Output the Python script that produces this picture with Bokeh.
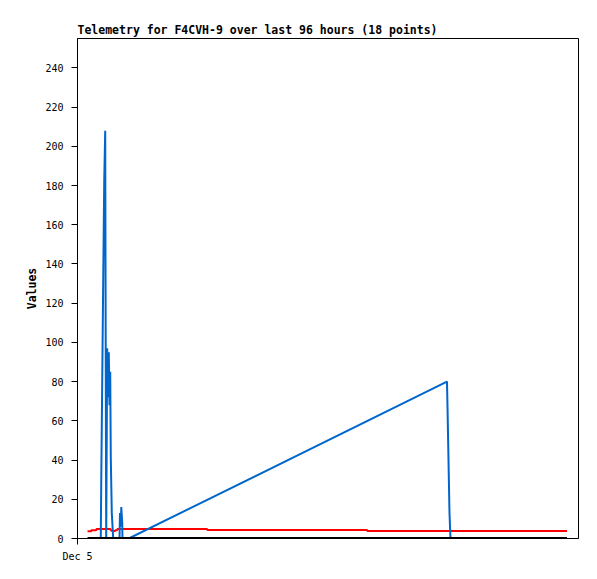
from bokeh.plotting import figure
from bokeh.models import Range1d, FixedTicker
from bokeh.embed import file_html
from bokeh.resources import INLINE

# Hours since Dec 5 00:00 and values
blue_t = [4.46, 4.54, 4.73, 4.92, 5.12, 5.31, 5.40, 5.50, 5.69, 5.84, 6.00, 6.13, 6.27,
          6.38, 6.57, 6.84, 8.05, 8.14, 8.30, 8.39, 8.57, 8.62, 9.83, 70.80, 70.90,
          71.09, 71.28, 71.47]
blue_v = [0, 26, 78, 130, 182, 208, 104, 0, 97, 72, 95, 68, 85,
          41, 13, 0, 0, 13, 6, 16, 8, 0, 0, 80, 67,
          40, 13, 0]

red_t = [1.92, 2.60, 2.68, 3.55, 3.64, 6.32, 6.40, 6.71, 7.20, 7.28, 7.58, 7.66,
         24.81, 24.91, 55.47, 55.57, 93.80]
red_v = [3.7, 3.7, 4.2, 4.2, 4.8, 4.8, 4.2, 3.8, 3.8, 4.2, 4.2, 4.8,
         4.8, 4.3, 4.3, 3.8, 3.8]

black_t = [1.92, 93.80]
black_v = [0, 0]

y_ticks = list(range(0, 241, 20))
x_ticks = [0]
x_labels = {0: "Dec 5"}
title_text = "Telemetry for F4CVH-9 over last 96 hours (18 points)"

p = figure(width=593, height=571, frame_width=501, frame_height=500,
           output_backend="svg", toolbar_location=None,
           x_range=Range1d(0, 96), y_range=Range1d(0, 255),
           min_border_left=77, min_border_top=38, min_border_right=15,
           min_border_bottom=33, title=title_text)

p.title.text_font = "DejaVu Sans Mono"
p.title.text_font_size = "11.5px"
p.title.text_font_style = "bold"
p.title.text_color = "black"
p.title.align = "left"
p.title.standoff = 3
p.title.offset = 0

p.xgrid.visible = False
p.ygrid.visible = False
p.outline_line_color = "black"
p.outline_line_width = 1

for ax in (p.xaxis[0], p.yaxis[0]):
    ax.axis_line_color = "black"
    ax.major_tick_line_color = "black"
    ax.minor_tick_line_color = None
    ax.major_tick_in = 0
    ax.major_tick_out = 6
    ax.major_label_text_font = "DejaVu Sans Mono"
    ax.major_label_text_font_size = "10px"
    ax.major_label_text_color = "black"

p.yaxis[0].ticker = FixedTicker(ticks=y_ticks)
p.yaxis[0].major_label_standoff = 8
p.yaxis[0].axis_label = "Values"
p.yaxis[0].axis_label_text_font = "DejaVu Sans Mono"
p.yaxis[0].axis_label_text_font_size = "11.5px"
p.yaxis[0].axis_label_text_font_style = "bold"
p.yaxis[0].axis_label_text_color = "black"
p.yaxis[0].axis_label_standoff = 3

p.xaxis[0].ticker = FixedTicker(ticks=x_ticks)
p.xaxis[0].major_label_overrides = x_labels
p.xaxis[0].major_label_standoff = 6

p.line(red_t, red_v, line_color="#ff0000", line_width=2)
p.line(blue_t, blue_v, line_color="#0066cc", line_width=2)
p.line(black_t, black_v, line_color="#000000", line_width=3)

open("out.html", "w").write(file_html(p, INLINE))
